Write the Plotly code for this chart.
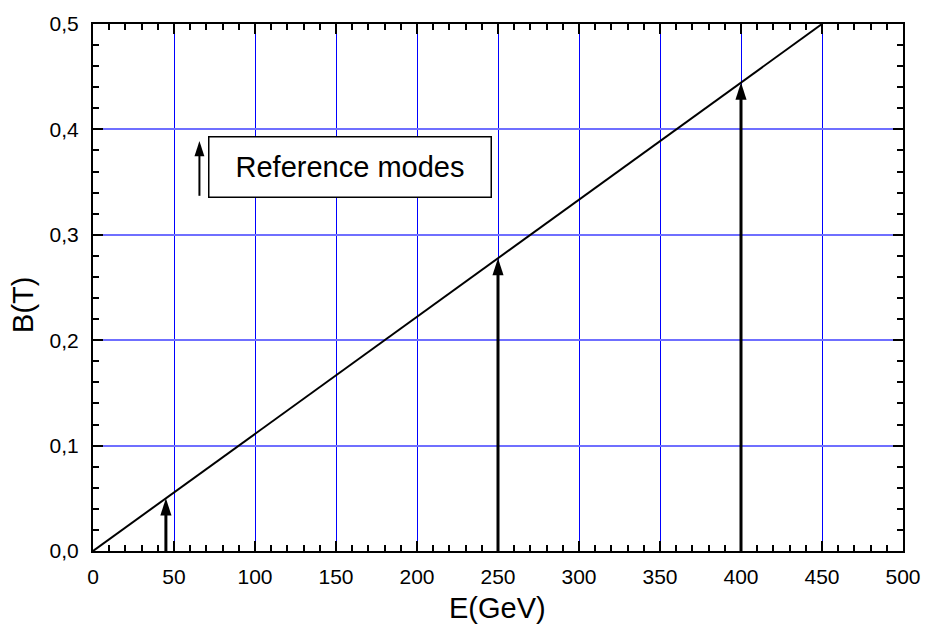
import plotly.graph_objects as go

# Data
line_E = [0, 450]
line_B = [0.0, 0.5]
mode_E = [45, 250, 400]
mode_B = [0.05, 0.2778, 0.4444]
legend_arrow_E = [65.7, 65.7]
legend_arrow_B = [0.337, 0.389]
x_ticks = [0, 50, 100, 150, 200, 250, 300, 350, 400, 450, 500]
y_ticks = [0.0, 0.1, 0.2, 0.3, 0.4, 0.5]

FONT = "Liberation Sans, Arial, sans-serif"

fig = go.Figure()

fig.add_trace(go.Scatter(x=line_E, y=line_B, mode="lines",
                         line=dict(color="black", width=2), showlegend=False,
                         hoverinfo="skip"))

for e, b in zip(mode_E, mode_B):
    fig.add_trace(go.Scatter(x=[e, e], y=[0, b - 0.01], mode="lines",
                             line=dict(color="black", width=3), showlegend=False,
                             hoverinfo="skip"))
fig.add_trace(go.Scatter(x=mode_E, y=mode_B, mode="markers",
                         marker=dict(symbol="arrow", size=18, color="black",
                                     line=dict(width=0)),
                         showlegend=False, hoverinfo="skip", cliponaxis=False))

# legend-like arrow
fig.add_trace(go.Scatter(x=legend_arrow_E, y=[legend_arrow_B[0], legend_arrow_B[1] - 0.01],
                         mode="lines",
                         line=dict(color="black", width=2), showlegend=False,
                         hoverinfo="skip"))
fig.add_trace(go.Scatter(x=[legend_arrow_E[1]], y=[legend_arrow_B[1]], mode="markers",
                         marker=dict(symbol="arrow", size=16, color="black",
                                     line=dict(width=0)),
                         showlegend=False, hoverinfo="skip"))

fig.add_annotation(x=158.5, y=0.3644, xref="x", yref="y",
                   text="Reference modes", showarrow=False,
                   font=dict(family=FONT, size=29, color="black"),
                   bgcolor="white", bordercolor="black", borderwidth=1.5,
                   width=279, height=57, align="center")

# axis titles
fig.add_annotation(x=0.4988, y=-0.109, xref="paper", yref="paper",
                   text="E(GeV)", showarrow=False, xanchor="center", yanchor="middle",
                   font=dict(family=FONT, size=29, color="black"))
fig.add_annotation(x=-0.0864, y=0.467, xref="paper", yref="paper",
                   text="B(T)", showarrow=False, textangle=-90,
                   xanchor="center", yanchor="middle",
                   font=dict(family=FONT, size=29, color="black"))

axis_common = dict(showline=True, linecolor="black", linewidth=2, mirror="allticks",
                   ticks="inside", ticklen=10, tickwidth=2, tickcolor="black",
                   zeroline=False, showgrid=True,
                   tickfont=dict(family=FONT, size=21, color="black"))

fig.update_xaxes(range=[0, 500], tickvals=x_ticks, gridcolor="#0000ff", gridwidth=1,
                 minor=dict(dtick=10, ticklen=6, tickwidth=1.5, tickcolor="black",
                            ticks="inside", showgrid=False),
                 ticklabelstandoff=6, **axis_common)
fig.update_yaxes(range=[0, 0.5], tickvals=y_ticks, tickformat=".1f",
                 gridcolor="#6f6fff", gridwidth=1.5,
                 minor=dict(dtick=0.02, ticklen=6, tickwidth=1.5, tickcolor="black",
                            ticks="inside", showgrid=False),
                 ticklabelstandoff=8, **axis_common)

fig.update_layout(width=933, height=627,
                  margin=dict(l=93, r=18, t=20, b=76),
                  paper_bgcolor="white", plot_bgcolor="white",
                  separators=",.", showlegend=False,
                  font=dict(family=FONT, color="black"))

fig.write_html("out.html")
